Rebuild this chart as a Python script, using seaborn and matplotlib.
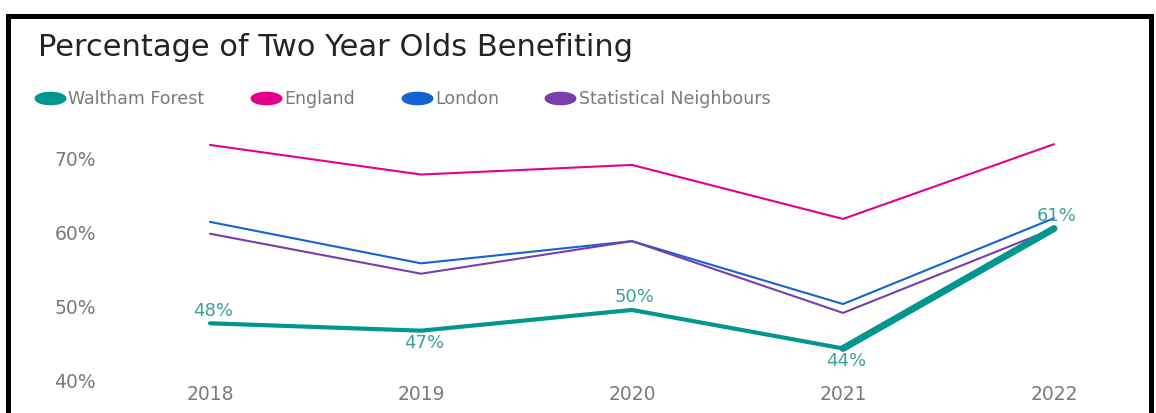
import matplotlib
matplotlib.use("Agg")
import matplotlib.pyplot as plt
from matplotlib.lines import Line2D
from matplotlib.patches import Rectangle
from matplotlib.path import Path
import numpy as np
import pandas as pd
import seaborn as sns

# Source data: share of eligible two year olds benefiting from funded early education
years = [2018, 2019, 2020, 2021, 2022]
waltham_forest = [47.8, 46.8, 49.6, 44.4, 60.6]
england = [71.9, 67.9, 69.2, 61.9, 72.0]
london = [61.5, 55.9, 58.9, 50.4, 62.0]
stat_neighbours = [59.9, 54.5, 58.9, 49.2, 60.6]

series_names = ["Waltham Forest", "England", "London", "Statistical Neighbours"]
y_ticks = [40, 50, 60, 70]

colors = {
    "Waltham Forest": "#01968F",
    "England": "#E3008C",
    "London": "#1463D2",
    "Statistical Neighbours": "#7A3DAA",
}
widths = {
    "Waltham Forest": 3.0,
    "England": 1.5,
    "London": 1.5,
    "Statistical Neighbours": 1.5,
}

df = pd.DataFrame({
    "year": years * 4,
    "pct": waltham_forest + england + london + stat_neighbours,
    "series": sum([[s] * len(years) for s in series_names], []),
})

sns.set_theme(style="white")
plt.rcParams["font.family"] = ["DejaVu Sans"]

W, H = 1156, 413
fig = plt.figure(figsize=(W / 100, H / 100), dpi=100)
fig.patch.set_facecolor("white")

ax_left, ax_right, ax_bottom, ax_top = 110, 1140, 381, 135
ax = fig.add_axes([ax_left / W, 1 - ax_bottom / H,
                   (ax_right - ax_left) / W, (ax_bottom - ax_top) / H])

# draw the comparison lines first, Waltham Forest on top
for name in ["England", "London", "Statistical Neighbours", "Waltham Forest"]:
    sub = df[df["series"] == name]
    sns.lineplot(data=sub, x="year", y="pct", ax=ax, color=colors[name],
                 linewidth=widths[name], legend=False,
                 solid_capstyle="round", solid_joinstyle="round")

# latest year-on-year change for Waltham Forest emphasised
wf = df[df["series"] == "Waltham Forest"]
sns.lineplot(data=wf[wf["year"] >= years[-2]], x="year", y="pct", ax=ax,
             color=colors["Waltham Forest"], linewidth=5.0, legend=False,
             solid_capstyle="round")

# data labels for Waltham Forest, alternating above / below the line
label_color = "#3FA09A"
for i, (yr, v) in enumerate(zip(years, waltham_forest)):
    above = i in (0, 2, 4)
    ax.annotate(f"{v:.0f}%", (yr, v), xytext=(2, 9 if above else -9),
                textcoords="offset points", ha="center", va="center",
                fontsize=13, color=label_color)

px_per_year = (1054 - 210) / 4
ax.set_xlim(years[0] - (210 - ax_left) / px_per_year,
            years[-1] + (ax_right - 1054) / px_per_year)
ax.set_ylim(40, 40 + (ax_bottom - ax_top) / 7.4)

ax.set_xticks(years)
ax.set_xticklabels([str(y) for y in years])
ax.set_yticks(y_ticks)
ax.set_yticklabels([f"{t}%" for t in y_ticks])
tick_color = "#7A7A7A"
ax.tick_params(axis="x", pad=3, length=0, labelsize=13.5, labelcolor=tick_color)
ax.tick_params(axis="y", pad=10, length=0, labelsize=13.5, labelcolor=tick_color)
ax.set_xlabel("")
ax.set_ylabel("")
ax.grid(False)
sns.despine(ax=ax, left=True, bottom=True)

fig.text(38 / W, 1 - 48 / H, "Percentage of Two Year Olds Benefiting",
         ha="left", va="center", fontsize=22, color="#252423")

# legend with flattened dot markers
t = np.linspace(0, 2 * np.pi, 60)
ellipse = Path(np.column_stack([1.25 * np.cos(t), 0.5 * np.sin(t)]))
handles = [Line2D([], [], linestyle="none", marker=ellipse, markersize=22,
                  markerfacecolor=colors[s], markeredgecolor=colors[s])
           for s in series_names]
fig.legend(handles, series_names, loc="center left",
           bbox_to_anchor=(30 / W, 1 - 99 / H), ncol=4, frameon=False,
           fontsize=12.5, labelcolor=tick_color, handlelength=1.5,
           handletextpad=0.3, columnspacing=2.8, borderaxespad=0)

# outer frame
fig.add_artist(Rectangle((7.5 / W, -0.2), (1150.5 - 7.5) / W, 1.2 - 15.5 / H,
                         transform=fig.transFigure, fill=False,
                         edgecolor="black", linewidth=3.6))

fig.savefig("out.png", dpi=100, facecolor="white")
